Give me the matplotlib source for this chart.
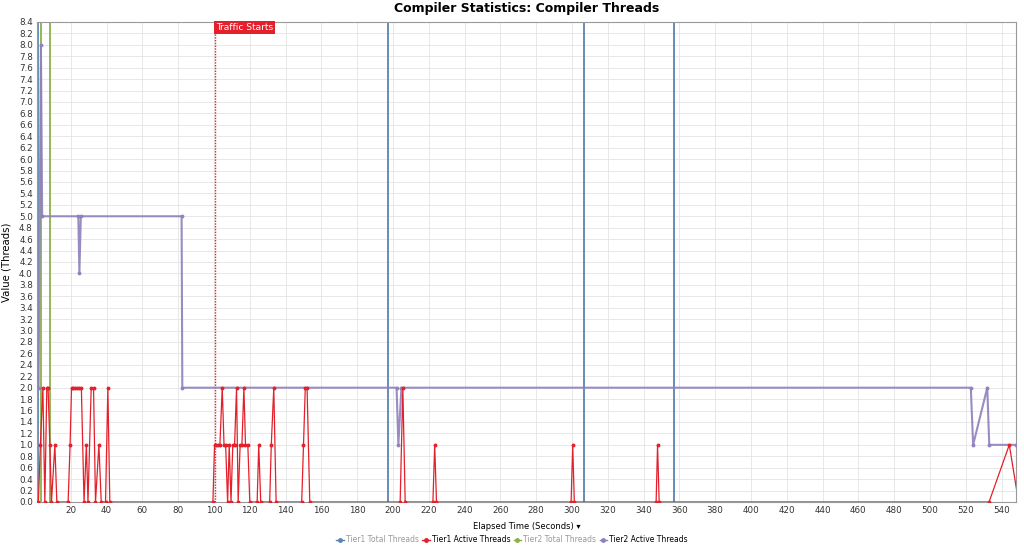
import matplotlib
matplotlib.use("Agg")
import matplotlib.pyplot as plt
from matplotlib.lines import Line2D
import numpy as np

# Tier1 Active Threads (red)
t1_active_x = [1.9, 3.0, 4.4, 5.5, 6.6, 7.3, 8.3, 9.2, 11.1, 12.2, 18.5, 19.6, 20.4, 21.5, 22.5, 23.5, 24.5,
               25.9, 27.4, 28.7, 29.6, 31.4, 32.7, 33.8, 35.7, 37.0, 39.4, 40.7, 41.8,
               99.4, 100.3, 101.3, 102.3, 103.3, 104.6, 105.6, 106.5, 107.6, 108.5, 109.5, 110.5, 111.5,
               112.6, 113.5, 114.6, 115.6, 116.7, 117.6, 118.9, 120.0, 124.1, 125.0, 126.1, 131.1, 132.0,
               133.4, 134.7, 149.0, 150.0, 151.0, 152.0, 153.5, 204.0, 205.5, 206.8, 222.3, 223.3, 224.3,
               299.5, 300.4, 301.3, 347.0, 347.8, 348.7, 533.0, 544.3, 549.5]
t1_active_y = [0, 1, 2, 0, 2, 2, 1, 0, 1, 0, 0, 1, 2, 2, 2, 2, 2,
               2, 0, 1, 0, 2, 2, 0, 1, 0, 0, 2, 0,
               0, 1, 1, 1, 1, 2, 1, 1, 0, 1, 0, 1, 1,
               2, 0, 1, 1, 2, 1, 1, 0, 0, 1, 0, 0, 1,
               2, 0, 0, 1, 2, 2, 0, 0, 2, 0, 0, 1, 0,
               0, 1, 0, 0, 1, 0, 0, 1, 0]

# Tier2 Active Threads (purple)
t2_active_x = [2.0, 3.3, 4.0, 24.2, 24.8, 25.6, 81.9, 82.3, 202.0, 203.0, 204.7, 522.8, 524.1, 532.0, 533.1, 548.0]
t2_active_y = [2, 8, 5, 5, 4, 5, 5, 2, 2, 1, 2, 2, 1, 2, 1, 1]

# Total threads show up as spikes off the scale
t1_total_times = [1.6, 197.4, 306.8, 357.0]
t2_total_times = [3.4, 8.6]

traffic_start = 100.3

c_t1_total = '#5a84b0'
c_t1_active = '#e3202b'
c_t2_total = '#8cb04a'
c_t2_active = '#8f80bd'

fig = plt.figure(figsize=(10.24, 5.47), dpi=100)
ax = fig.add_axes([0.0361, 0.0823, 0.956, 0.8775])

for t in t1_total_times:
    ax.axvline(t, color=c_t1_total, lw=1.3, zorder=2)
for t in t2_total_times:
    ax.axvline(t, color=c_t2_total, lw=1.3, zorder=2)

ax.axvline(traffic_start, color=c_t1_active, lw=1.0, ls=(0, (1, 1)), zorder=3)
ax.text(traffic_start + 0.8, 8.38, 'Traffic Starts', color='white', fontsize=6.5,
        ha='left', va='top', zorder=6,
        bbox=dict(boxstyle='square,pad=0.25', fc=c_t1_active, ec='none'))

ax.plot(t2_active_x, t2_active_y, color=c_t2_active, lw=1.5, marker='o', ms=1.8,
        zorder=4, alpha=0.9)
ax.plot(t1_active_x, t1_active_y, color=c_t1_active, lw=0.9, marker='o', ms=1.8,
        zorder=5)

ax.set_xlim(1.1, 548)
ax.set_ylim(0, 8.4)
ax.set_xticks(np.arange(20, 541, 20))
ax.set_yticks(np.arange(0, 8.41, 0.2))
ax.set_yticklabels(['%.1f' % v for v in np.arange(0, 8.41, 0.2)])
ax.tick_params(labelsize=6.3, length=0, pad=3, colors='#333333')
ax.grid(True, color='#e4e4e4', lw=0.6)
ax.set_axisbelow(True)
for s in ax.spines.values():
    s.set_color('#999999')
    s.set_linewidth(0.8)

ax.set_title('Compiler Statistics: Compiler Threads', fontsize=9, fontweight='bold', pad=7)
ax.set_xlabel('Elapsed Time (Seconds) \u25be', fontsize=6, labelpad=5)
ax.set_ylabel('Value (Threads)', fontsize=7.3, labelpad=5)

handles = [
    Line2D([], [], color=c_t1_total, marker='o', ms=2.5, lw=1),
    Line2D([], [], color=c_t1_active, marker='o', ms=2.5, lw=1),
    Line2D([], [], color=c_t2_total, marker='o', ms=2.5, lw=1),
    Line2D([], [], color=c_t2_active, marker='o', ms=2.5, lw=1),
]
labels = ['Tier1 Total Threads', 'Tier1 Active Threads', 'Tier2 Total Threads', 'Tier2 Active Threads']
leg = fig.legend(handles, labels, loc='center', bbox_to_anchor=(0.5, 0.013), ncol=4,
                 frameon=False, fontsize=5.5, handlelength=1.0, handletextpad=0.3,
                 columnspacing=0.4)
for txt, col in zip(leg.get_texts(), ['#999999', 'black', '#999999', 'black']):
    txt.set_color(col)

fig.savefig('out.png', dpi=100)
